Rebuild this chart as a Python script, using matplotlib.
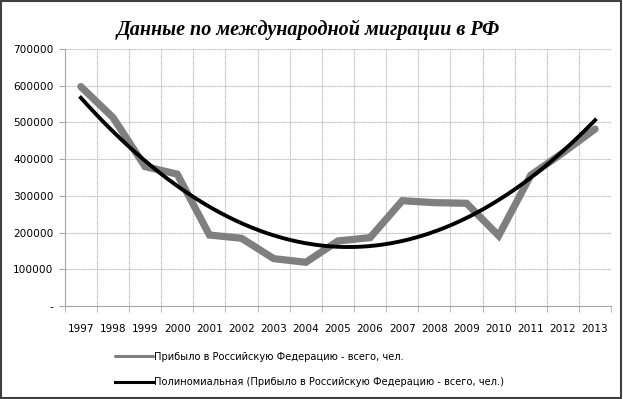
import numpy as np
import matplotlib.pyplot as plt
from matplotlib.ticker import FuncFormatter, MultipleLocator

# Data
years = [1997, 1998, 1999, 2000, 2001, 2002, 2003, 2004, 2005,
         2006, 2007, 2008, 2009, 2010, 2011, 2012, 2013]
arrived = [597651, 513551, 379726, 359330, 193450, 184612, 129144, 119157,
           177230, 186380, 286956, 281614, 279907, 191656, 356535, 417681, 482241]

title = "Данные по международной миграции в РФ"
label_data = "Прибыло в Российскую Федерацию - всего, чел."
label_trend = "Полиномиальная (Прибыло в Российскую Федерацию - всего, чел.)"

x = np.arange(len(years))
# polynomial trendline, order 2 (as in Excel)
coef = np.polyfit(x, arrived, 2)
xs = np.linspace(0, len(years) - 1, 200)
trend = np.polyval(coef, xs)

fig = plt.figure(figsize=(6.23, 3.99), dpi=100)
ax = fig.add_axes([0.104, 0.233, 0.877, 0.644])

ax.plot(x, arrived, color="#7f7f7f", linewidth=5.2, solid_joinstyle="miter",
        solid_capstyle="round", label=label_data, zorder=3)
ax.plot(xs, trend, color="black", linewidth=2.8, label=label_trend, zorder=4)

ax.set_xlim(-0.5, len(years) - 0.5)
ax.set_ylim(0, 700000)
ax.set_xticks(x)
ax.set_xticklabels([str(y) for y in years])
ax.set_xticks(np.arange(-0.5, len(years), 1), minor=True)
ax.yaxis.set_major_locator(MultipleLocator(100000))
ax.yaxis.set_major_formatter(FuncFormatter(lambda v, p: "-" if v == 0 else f"{int(v)}"))

ax.tick_params(axis="x", which="major", length=0, pad=13, labelsize=7.6)
ax.tick_params(axis="x", which="minor", length=4, color="#a8a8a8")
ax.tick_params(axis="y", length=4, color="#a8a8a8", labelsize=7.6, pad=4)

ax.grid(axis="y", which="major", color="#c4c4c4", linewidth=0.8, linestyle=(0, (1.5, 0.5)))
ax.grid(axis="x", which="minor", color="#c4c4c4", linewidth=0.8, linestyle=(0, (1.5, 0.5)))
ax.set_axisbelow(True)
for side in ["top", "right"]:
    ax.spines[side].set_visible(False)
for side in ["left", "bottom"]:
    ax.spines[side].set_color("#a8a8a8")
    ax.spines[side].set_linewidth(0.8)

fig.text(0.494, 0.925, title, ha="center", va="center", fontsize=14.5,
         family="Liberation Serif", style="italic", weight="bold")

leg = fig.legend(loc="upper left", bbox_to_anchor=(0.178, 0.128), frameon=False,
                 fontsize=7.1, handlelength=3.9, handletextpad=0.1, labelspacing=1.55,
                 borderaxespad=0)
leg.get_lines()[0].set_linewidth(2.2)
leg.get_lines()[1].set_linewidth(2.2)

# chart border
fig.patches.append(plt.Rectangle((0.002, 0.003), 0.994, 0.994, transform=fig.transFigure,
                                 fill=False, edgecolor="#404040", linewidth=1.5))

fig.savefig("out.png", dpi=100)
